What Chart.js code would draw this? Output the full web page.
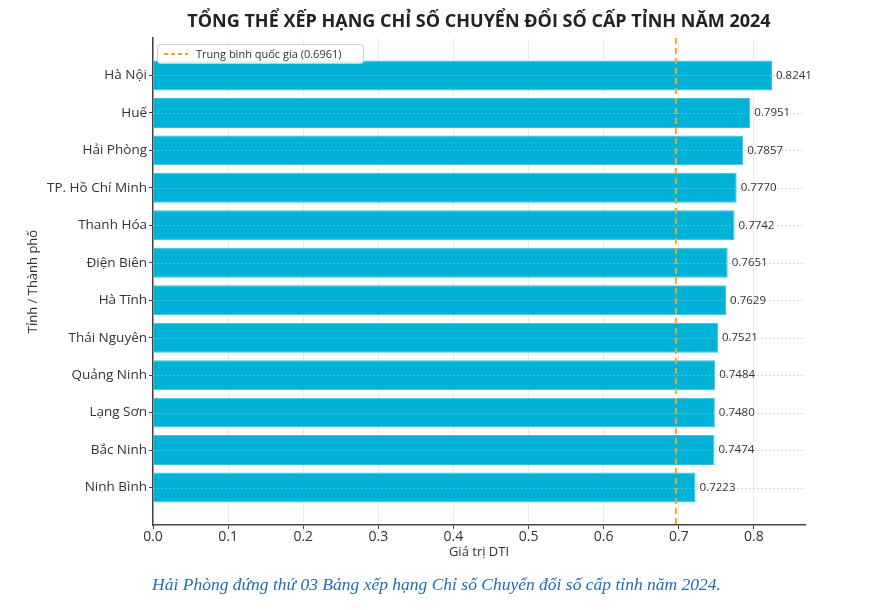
<!DOCTYPE html>
<html lang="vi">
<head>
<meta charset="utf-8">
<title>Chỉ số chuyển đổi số cấp tỉnh 2024</title>
<script src="https://cdn.jsdelivr.net/npm/chart.js@4.4.1/dist/chart.umd.min.js"></script>
<style>
  html, body { margin: 0; padding: 0; background: #fff; }
  #wrap { position: relative; width: 873px; height: 610px; }
  #caption {
    position: absolute; left: 0; top: 574px; width: 873px;
    text-align: center; font-family: "Liberation Serif", serif; font-style: italic;
    font-size: 17.5px; color: #1f6db3;
  }
</style>
</head>
<body>
<div id="wrap">
  <canvas id="dtiChart" width="873" height="610"></canvas>
  <div id="caption">Hải Phòng đứng thứ 03 Bảng xếp hạng Chỉ số Chuyển đổi số cấp tỉnh năm 2024.</div>
</div>
<script>
// Data
const provinces = ["Hà Nội", "Huế", "Hải Phòng", "TP. Hồ Chí Minh", "Thanh Hóa", "Điện Biên",
                   "Hà Tĩnh", "Thái Nguyên", "Quảng Ninh", "Lạng Sơn", "Bắc Ninh", "Ninh Bình"];
const dtiValues = [0.8241, 0.7951, 0.7857, 0.7770, 0.7742, 0.7651, 0.7629, 0.7521, 0.7484, 0.7480, 0.7474, 0.7223];
const nationalAvg = 0.6961;
const xTicks = [0, 0.1, 0.2, 0.3, 0.4, 0.5, 0.6, 0.7, 0.8];

const chartTitle = "TỔNG THỂ XẾP HẠNG CHỈ SỐ CHUYỂN ĐỔI SỐ CẤP TỈNH NĂM 2024";
const xTitle = "Giá trị DTI";
const yTitle = "Tỉnh / Thành phố";
const legendLabel = "Trung bình quốc gia (" + nationalAvg.toFixed(4) + ")";

const textColor = "#333";
const axisColor = "#444";
const sansFont = "'Open Sans', 'DejaVu Sans', sans-serif";

function drawRowLines(chart, color) {
    const ctx = chart.ctx;
    const area = chart.chartArea;
    const y = chart.scales.y;
    ctx.save();
    ctx.strokeStyle = color;
    ctx.lineWidth = 1;
    ctx.setLineDash([2, 2]);
    provinces.forEach((p, i) => {
        const py = Math.round(y.getPixelForValue(i)) + 0.5;
        ctx.beginPath();
        ctx.moveTo(area.left, py);
        ctx.lineTo(area.right, py);
        ctx.stroke();
    });
    ctx.restore();
}

// dotted row lines, value labels, titles, legend
const decorPlugin = {
    id: "decor",
    beforeDatasetsDraw(chart) {
        drawRowLines(chart, "#d8d8d8");
    },
    afterDatasetsDraw(chart) {
        drawRowLines(chart, "rgba(210,230,240,0.35)");
        const ctx = chart.ctx;
        const meta = chart.getDatasetMeta(0);
        ctx.save();
        ctx.fillStyle = textColor;
        ctx.font = "11.5px " + sansFont;
        ctx.textAlign = "left";
        ctx.textBaseline = "middle";
        meta.data.forEach((el, i) => {
            ctx.fillText(dtiValues[i].toFixed(4), el.x + 4, el.y);
        });
        ctx.restore();
    },
    afterDraw(chart) {
        const ctx = chart.ctx;
        const area = chart.chartArea;
        ctx.save();
        // title
        ctx.fillStyle = "#222";
        ctx.font = "bold 18px " + sansFont;
        ctx.textAlign = "center";
        ctx.textBaseline = "middle";
        ctx.fillText(chartTitle, (area.left + area.right) / 2, 22);

        // axis titles
        ctx.fillStyle = textColor;
        ctx.font = "13px " + sansFont;
        ctx.fillText(xTitle, (area.left + area.right) / 2, 552);
        ctx.translate(33, (area.top + area.bottom) / 2);
        ctx.rotate(-Math.PI / 2);
        ctx.fillText(yTitle, 0, 0);
        ctx.restore();

        // legend box
        ctx.save();
        const lx = area.left + 4, ly = area.top + 6, lw = 206, lh = 19;
        ctx.fillStyle = "rgba(255,255,255,0.85)";
        ctx.strokeStyle = "#cccccc";
        ctx.lineWidth = 1;
        ctx.beginPath();
        ctx.roundRect(lx + 0.5, ly + 0.5, lw, lh, 3);
        ctx.fill();
        ctx.stroke();
        ctx.strokeStyle = "#eea62e";
        ctx.lineWidth = 2;
        ctx.setLineDash([4, 3]);
        ctx.beginPath();
        ctx.moveTo(lx + 7, ly + lh / 2 + 0.5);
        ctx.lineTo(lx + 31, ly + lh / 2 + 0.5);
        ctx.stroke();
        ctx.setLineDash([]);
        ctx.fillStyle = textColor;
        ctx.font = "11px " + sansFont;
        ctx.textAlign = "left";
        ctx.textBaseline = "middle";
        ctx.fillText(legendLabel, lx + 39, ly + lh / 2 + 1);
        ctx.restore();
    }
};

const ctx = document.getElementById("dtiChart").getContext("2d");
new Chart(ctx, {
    data: {
        datasets: [
            {
                type: "bar",
                label: "DTI",
                data: dtiValues.map((v, i) => ({ x: v, y: i })),
                backgroundColor: "#00b2d6",
                borderColor: "#36c2e0",
                borderWidth: 1,
                barPercentage: 0.8,
                categoryPercentage: 1.0,
                order: 2
            },
            {
                type: "line",
                label: legendLabel,
                data: [{ x: nationalAvg, y: -1 }, { x: nationalAvg, y: 12 }],
                borderColor: "#eea62e",
                borderWidth: 2,
                borderDash: [6, 4],
                pointRadius: 0,
                order: 1
            }
        ]
    },
    options: {
        indexAxis: "y",
        responsive: false,
        animation: false,
        layout: { padding: { top: 38, right: 68, left: 0, bottom: 0 } },
        plugins: {
            legend: { display: false },
            tooltip: { enabled: false },
            title: { display: false }
        },
        scales: {
            x: {
                type: "linear",
                min: 0,
                max: 0.868,
                offset: false,
                afterBuildTicks: (scale) => { scale.ticks = xTicks.map(v => ({ value: v })); },
                afterFit: (scale) => { scale.height = 85; },
                ticks: {
                    color: textColor,
                    font: { family: sansFont, size: 14 },
                    padding: 0,
                    callback: (v) => Number(v).toFixed(1)
                },
                grid: { color: "#ebebeb", tickLength: 4, tickColor: axisColor, offset: false },
                border: { display: true, color: axisColor, width: 1.5 }
            },
            y: {
                type: "linear",
                reverse: true,
                min: -1,
                max: 12,
                offset: false,
                afterBuildTicks: (scale) => { scale.ticks = provinces.map((p, i) => ({ value: i })); },
                afterFit: (scale) => { scale.width = 153; },
                ticks: {
                    color: textColor,
                    font: { family: sansFont, size: 13.5 },
                    padding: 2,
                    callback: (v) => provinces[v]
                },
                grid: { drawOnChartArea: false, tickLength: 4, tickColor: axisColor, offset: false },
                border: { display: true, color: axisColor, width: 1.5 }
            }
        }
    },
    plugins: [decorPlugin]
});
</script>
</body>
</html>
